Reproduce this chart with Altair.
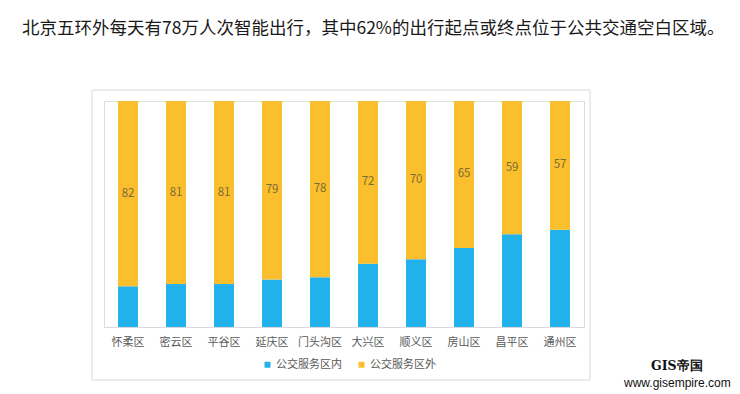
import altair as alt
import pandas as pd

districts = ["怀柔区", "密云区", "平谷区", "延庆区", "门头沟区", "大兴区", "顺义区", "房山区", "昌平区", "通州区"]
outside = [82, 81, 81, 79, 78, 72, 70, 65, 59, 57]
inside = [100 - v for v in outside]
series = ["公交服务区内", "公交服务区外"]
colors = ["#21B1EB", "#FBBE2C"]
title_text = "北京五环外每天有78万人次智能出行，其中62%的出行起点或终点位于公共交通空白区域。"

rows = []
for d, i, o in zip(districts, inside, outside):
    rows.append({"district": d, "series": series[0], "value": i, "ord": 0})
    rows.append({"district": d, "series": series[1], "value": o, "ord": 1})
df = pd.DataFrame(rows)
lab = pd.DataFrame({"district": districts, "outside": outside, "inside": inside})
lab["mid"] = lab["inside"] + lab["outside"] / 2

FONT = "Noto Sans CJK SC"

x_enc = alt.X("district:N", sort=districts, scale=alt.Scale(paddingInner=0.0, paddingOuter=0.0),
              axis=alt.Axis(title=None, labelAngle=0, ticks=False, domainColor="#d9d9d9",
                            labelColor="#595959", labelFontSize=11, labelPadding=9, labelFont=FONT))

bars = alt.Chart(df).mark_bar(size=20).encode(
    x=x_enc,
    y=alt.Y("value:Q", stack="zero", scale=alt.Scale(domain=[0, 100], nice=False), axis=None),
    color=alt.Color("series:N", scale=alt.Scale(domain=series, range=colors),
                    legend=alt.Legend(title=None, orient="none", direction="horizontal",
                                      legendX=158, legendY=258, symbolType="square",
                                      symbolSize=36, symbolStrokeWidth=0,
                                      labelFontSize=11, labelColor="#595959", labelFont=FONT,
                                      labelOffset=3, columnPadding=14)),
    order=alt.Order("ord:Q"),
)

labels = alt.Chart(lab).mark_text(fontSize=11.5, color="#7d6c3a", font=FONT).encode(
    x=alt.X("district:N", sort=districts),
    y=alt.Y("mid:Q"),
    text="outside:Q",
)

title = alt.Chart(pd.DataFrame({"t": [title_text]})).mark_text(
    align="left", baseline="middle", fontSize=17.5, color="#1a1a1a", font=FONT
).encode(x=alt.value(-82), y=alt.value(-72), text="t:N")

box = alt.Chart(pd.DataFrame({"a": [0]})).mark_rect(
    fill=None, stroke="#d9d9d9", strokeWidth=1
).encode(x=alt.value(-12), x2=alt.value(486), y=alt.value(-11), y2=alt.value(279))

wm1 = alt.Chart(pd.DataFrame({"t": ["GIS帝国"]})).mark_text(
    align="left", baseline="middle", fontSize=12.5, fontWeight="bold", color="#111111",
    font="DejaVu Serif"
).encode(x=alt.value(547), y=alt.value(265), text="t:N")

wm2 = alt.Chart(pd.DataFrame({"t": ["www.gisempire.com"]})).mark_text(
    align="left", baseline="middle", fontSize=12, color="#111111", font="Liberation Sans"
).encode(x=alt.value(520), y=alt.value(282), text="t:N")

chart = alt.layer(box, bars, labels, title, wm1, wm2).resolve_scale(x="shared").properties(
    width=480, height=226,
    autosize=alt.AutoSizeParams(type="none"),
    padding={"left": 96, "top": 93, "right": 148, "bottom": 64},
).configure_view(stroke=None).configure(font=FONT)

chart.save("out.html", embed_options={"renderer": "svg", "actions": False})
